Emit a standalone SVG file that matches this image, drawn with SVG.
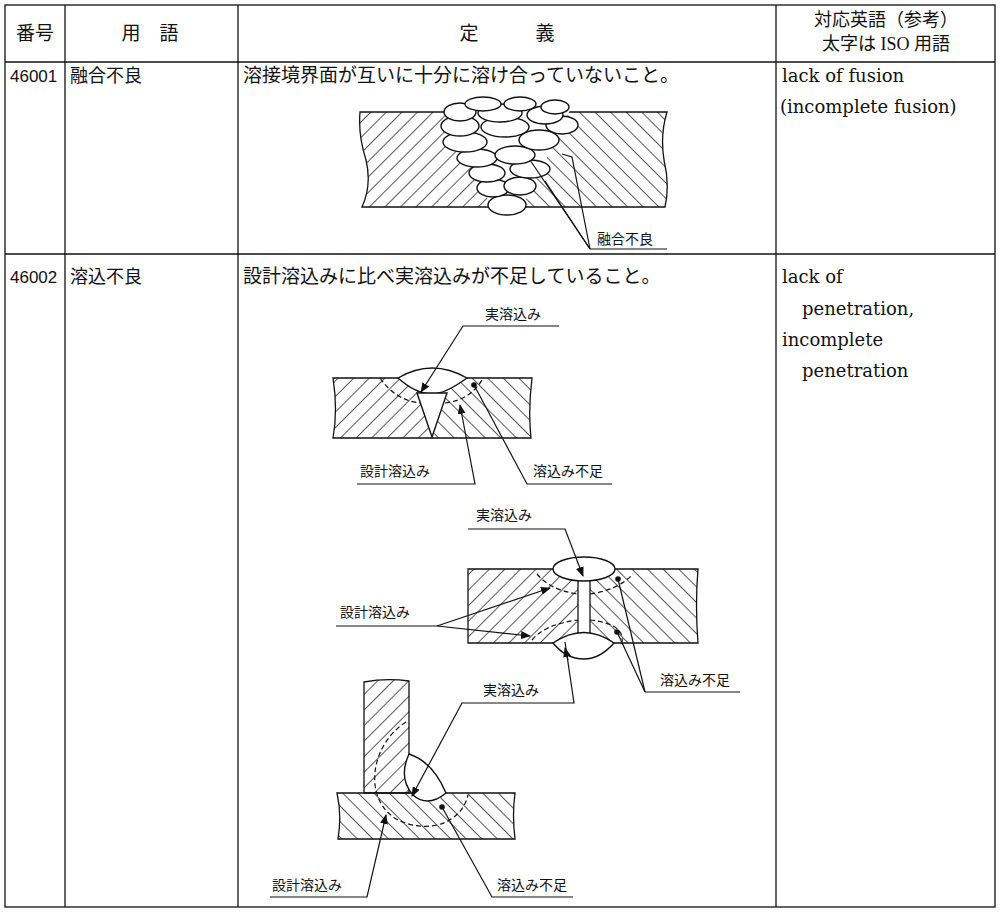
<svg xmlns="http://www.w3.org/2000/svg" width="1000" height="913" viewBox="0 0 1000 913">
<defs>
<pattern id="hl" width="11" height="11" patternUnits="userSpaceOnUse" patternTransform="rotate(45)"><line x1="0" y1="0" x2="0" y2="11" stroke="#111" stroke-width="1.4"/></pattern>
<pattern id="hr" width="11" height="11" patternUnits="userSpaceOnUse" patternTransform="rotate(-45)"><line x1="0" y1="0" x2="0" y2="11" stroke="#111" stroke-width="1.4"/></pattern>
<marker id="ar" markerWidth="10" markerHeight="8" refX="9" refY="4" orient="auto" markerUnits="userSpaceOnUse"><path d="M0,0 L10,4 L0,8 Z" fill="#111"/></marker>
<marker id="dt" markerWidth="6" markerHeight="6" refX="3" refY="3" markerUnits="userSpaceOnUse"><circle cx="3" cy="3" r="2.8" fill="#111"/></marker>
</defs>
<style>
.t{font-family:"Liberation Serif","Noto Sans CJK JP",serif;fill:#111}
.e{font-family:"DejaVu Serif",serif;fill:#111;font-size:18px}
.s{font-family:"Liberation Sans","Noto Sans CJK JP",sans-serif;fill:#111}
.g{stroke:#111;stroke-width:1.3;fill:none}
.w{fill:#fff;stroke:#111;stroke-width:1.4}
.d{stroke:#111;stroke-width:1.2;fill:none;stroke-dasharray:5 3}
.l{stroke:#111;stroke-width:1.2;fill:none}
.lbl{font-family:"Noto Sans CJK JP",sans-serif;font-size:14px;fill:#111}
</style>
<rect width="1000" height="913" fill="#fff"/>
<g id="table" class="g">
<rect x="5" y="5" width="990" height="902"/>
<line x1="5" y1="62" x2="995" y2="62"/>
<line x1="5" y1="254" x2="995" y2="254"/>
<line x1="65" y1="5" x2="65" y2="907"/>
<line x1="238" y1="5" x2="238" y2="907"/>
<line x1="776" y1="5" x2="776" y2="907"/>
</g>
<g id="header">
<text class="t" x="35" y="40" font-size="19" text-anchor="middle">番号</text>
<text class="t" x="150" y="40" font-size="19" text-anchor="middle" xml:space="preserve">用　語</text>
<text class="t" x="507" y="40" font-size="19" text-anchor="middle" xml:space="preserve">定　　　義</text>
<text class="t" x="886" y="26" font-size="18" text-anchor="middle">対応英語（参考）</text>
<text class="t" x="886" y="50" font-size="18" text-anchor="middle">太字は ISO 用語</text>
</g>
<g id="row46001">
<text class="s" x="10" y="82" font-size="17">46001</text>
<text class="s" x="70" y="82" font-size="18">融合不良</text>
<text class="t" x="243" y="82" font-size="19">溶接境界面が互いに十分に溶け合っていないこと。</text>
<text class="e" x="782" y="82">lack of fusion</text>
<text class="e" x="780" y="113">(incomplete fusion)</text>
</g>
<g id="row46002">
<text class="s" x="10" y="283" font-size="17">46002</text>
<text class="s" x="70" y="283" font-size="18">溶込不良</text>
<text class="t" x="243" y="283" font-size="19">設計溶込みに比べ実溶込みが不足していること。</text>
<text class="e" x="782" y="283">lack of</text>
<text class="e" x="802" y="315">penetration,</text>
<text class="e" x="782" y="346">incomplete</text>
<text class="e" x="802" y="377">penetration</text>
</g>
<g id="fig1">
<path d="M360,112 L500,112 L500,207 L362,207 Q372,185 366,160 Q358,135 360,112 Z" fill="url(#hl)" stroke="none"/>
<path d="M500,112 L667,112 Q660,135 664,160 Q670,185 665,207 L500,207 Z" fill="url(#hr)" stroke="none"/>
<path d="M360,112 L667,112 Q660,135 664,160 Q670,185 665,207 L362,207 Q372,185 366,160 Q358,135 360,112 Z" class="g"/>
<path d="M442,104 L573,104 L520,212 L494,212 Z" fill="#fff"/>
<g class="w">
<ellipse cx="507" cy="205" rx="19" ry="10"/>
<ellipse cx="493" cy="188" rx="16" ry="9"/><ellipse cx="520" cy="186" rx="16" ry="9"/>
<ellipse cx="487" cy="173" rx="18" ry="9"/><ellipse cx="530" cy="169" rx="20" ry="9"/>
<ellipse cx="477" cy="158" rx="20" ry="9"/><ellipse cx="515" cy="155" rx="20" ry="9"/>
<ellipse cx="465" cy="142" rx="22" ry="10"/><ellipse cx="539" cy="140" rx="20" ry="10"/>
<ellipse cx="460" cy="126" rx="19" ry="10"/><ellipse cx="505" cy="127" rx="24" ry="10"/><ellipse cx="562" cy="125" rx="16" ry="9"/>
<ellipse cx="460" cy="112" rx="16" ry="9"/><ellipse cx="500" cy="113" rx="22" ry="9"/><ellipse cx="545" cy="115" rx="18" ry="9"/>
<ellipse cx="483" cy="104" rx="18" ry="7"/><ellipse cx="520" cy="104" rx="16" ry="7"/><ellipse cx="555" cy="107" rx="14" ry="7"/>
</g>
<text class="lbl" x="597" y="244">融合不良</text>
<line class="l" x1="590" y1="249" x2="667" y2="249"/>
<polyline class="l" points="590,249 572,157 562,154"/>
<line class="l" x1="590" y1="249" x2="545" y2="181"/>
<line class="l" x1="590" y1="249" x2="530" y2="160"/>
</g>
<g id="fig2a">
<path d="M333,378 L432,378 L432,438 L333,438 Q338,410 333,378 Z" fill="url(#hl)"/>
<path d="M432,378 L532,378 Q528,410 531,438 L432,438 Z" fill="url(#hr)"/>
<path d="M333,378 L532,378 Q528,410 531,438 L333,438 Q338,410 333,378 Z" class="g"/>
<path d="M398,378 Q432,358 467,378 Q445,394 432,394 Q416,394 398,378 Z" class="w"/>
<path d="M417,393 L432,437 L447,393 Z" class="w"/>
<path class="d" d="M380,378 Q395,400 420,403"/><path class="d" d="M445,403 Q470,400 482,380"/>
<text class="lbl" x="485" y="319">実溶込み</text>
<polyline class="l" points="559,326 463,326 421,392" marker-end="url(#ar)"/>
<text class="lbl" x="360" y="476">設計溶込み</text>
<polyline class="l" points="357,484 475,484 460,405" marker-end="url(#ar)"/>
<text class="lbl" x="533" y="476">溶込み不足</text>
<polyline class="l" points="612,484 527,484 474,385" marker-end="url(#dt)"/>
</g>
<g id="fig2b">
<path d="M468,569 L583,569 L583,643 L468,643 Z" fill="url(#hl)"/>
<path d="M583,569 L698,569 Q695,605 698,643 L583,643 Z" fill="url(#hr)"/>
<path d="M468,569 L698,569 Q695,605 698,643 L468,643 Z" class="g"/>
<rect x="578" y="575" width="12" height="60" fill="#fff" stroke="#111" stroke-width="1.3"/>
<ellipse cx="584" cy="569" rx="31" ry="12" class="w"/>
<path d="M553,643 Q584,622 614,643 Q600,659 584,659 Q566,659 553,643 Z" class="w"/>
<path class="d" d="M537,574 Q550,590 578,594"/><path class="d" d="M590,594 Q618,590 633,574"/>
<path class="d" d="M532,640 Q545,624 578,620"/><path class="d" d="M590,620 Q625,624 622,642"/>
<text class="lbl" x="476" y="520">実溶込み</text>
<polyline class="l" points="468,529 565,529 583,576" marker-end="url(#ar)"/>
<text class="lbl" x="340" y="617">設計溶込み</text>
<line class="l" x1="336" y1="626" x2="437" y2="626"/>
<line class="l" x1="437" y1="626" x2="550" y2="588" marker-end="url(#ar)"/>
<line class="l" x1="437" y1="626" x2="530" y2="636" marker-end="url(#ar)"/>
<text class="lbl" x="660" y="685">溶込み不足</text>
<line class="l" x1="645" y1="692" x2="740" y2="692"/>
<line class="l" x1="645" y1="692" x2="618" y2="579" marker-end="url(#dt)"/>
<line class="l" x1="645" y1="692" x2="617" y2="632" marker-end="url(#dt)"/>
</g>
<g id="fig3">
<path d="M364,682 Q386,678 409,681 L409,793 L364,793 Z" fill="url(#hl)"/>
<path d="M364,682 Q386,678 409,681 L409,793 L364,793 Z" class="g"/>
<path d="M337,793 L515,793 Q512,815 515,839 L338,839 Q342,815 337,793 Z" fill="url(#hr)"/>
<path d="M337,793 L515,793 Q512,815 515,839 L338,839 Q342,815 337,793 Z" class="g"/>
<path d="M409,754 Q433,762 446,793 Q428,808 413,795 Q398,778 409,754 Z" class="w"/>
<path class="d" d="M406,722 C370,745 362,800 398,820 C430,835 462,822 468,795"/>
<text class="lbl" x="483" y="695">実溶込み</text>
<polyline class="l" points="565,642 574,703 462,703 412,796" marker-end="url(#ar)"/>
<line class="l" x1="568" y1="660" x2="565" y2="648" marker-end="url(#ar)"/>
<text class="lbl" x="272" y="890">設計溶込み</text>
<polyline class="l" points="270,897 367,897 386,815" marker-end="url(#ar)"/>
<text class="lbl" x="497" y="890">溶込み不足</text>
<polyline class="l" points="573,897 492,897 442,807" marker-end="url(#dt)"/>
</g>
</svg>
